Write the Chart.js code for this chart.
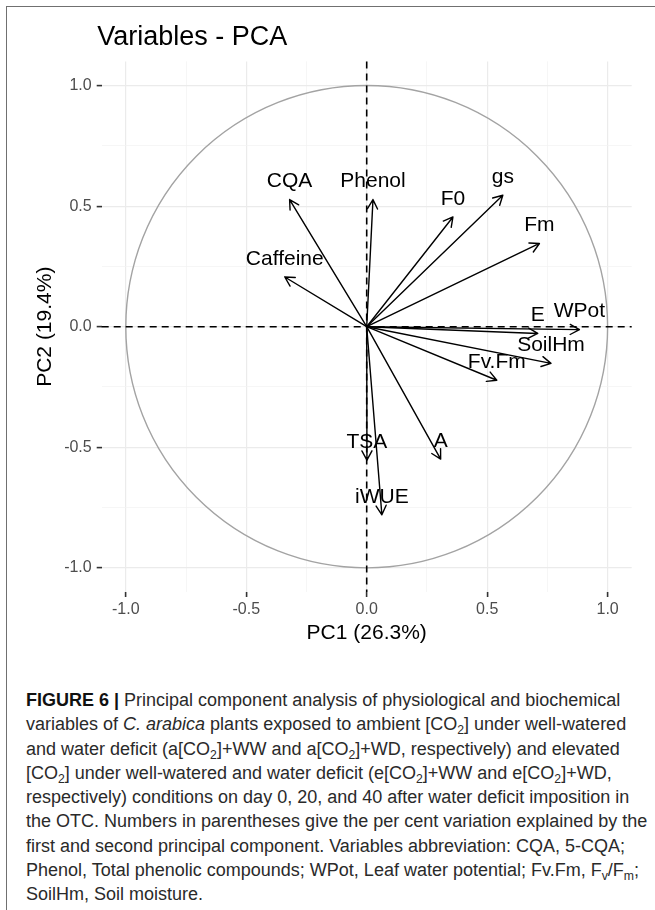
<!DOCTYPE html>
<html>
<head>
<meta charset="utf-8">
<script src="https://cdn.jsdelivr.net/npm/chart.js@4.4.1/dist/chart.umd.min.js"></script>
<style>
  html, body { margin: 0; padding: 0; background: #fff; }
  body { width: 655px; height: 910px; position: relative; overflow: hidden; font-family: "Liberation Sans", Arial, sans-serif; }
  #frame { position: absolute; left: 6px; top: 6px; right: -2px; bottom: -2px; border-top: 1.5px solid #707070; border-left: 1.5px solid #707070; }
  #chartBox { position: absolute; left: 0; top: 0; width: 655px; height: 660px; }
  #caption { position: absolute; left: 26px; top: 688px; font-size: 18px; line-height: 24.3px; color: #2a2a2a; white-space: nowrap; }
  #caption b { color: #111; }
  sub { font-size: 0.68em; vertical-align: -0.3em; line-height: 0; }
</style>
</head>
<body>
<div id="frame"></div>
<div id="chartBox"><canvas id="pca"></canvas></div>
<div id="caption">
  <b>FIGURE 6 |</b> Principal component analysis of physiological and biochemical<br>
  variables of <i>C. arabica</i> plants exposed to ambient [CO<sub>2</sub>] under well-watered<br>
  and water deficit (a[CO<sub>2</sub>]+WW and a[CO<sub>2</sub>]+WD, respectively) and elevated<br>
  [CO<sub>2</sub>] under well-watered and water deficit (e[CO<sub>2</sub>]+WW and e[CO<sub>2</sub>]+WD,<br>
  respectively) conditions on day 0, 20, and 40 after water deficit imposition in<br>
  the OTC. Numbers in parentheses give the per cent variation explained by the<br>
  first and second principal component. Variables abbreviation: CQA, 5-CQA;<br>
  Phenol, Total phenolic compounds; WPot, Leaf water potential; Fv.Fm, F<sub>v</sub>/F<sub>m</sub>;<br>
  SoilHm, Soil moisture.
</div>
<script>
/* variable coordinates on the first two components */
const variables = ['CQA', 'Phenol', 'Caffeine', 'F0', 'gs', 'Fm', 'E', 'WPot', 'SoilHm', 'Fv.Fm', 'TSA', 'A', 'iWUE'];
const pc1 = [-0.32, 0.026, -0.34, 0.358, 0.565, 0.717, 0.71, 0.883, 0.765, 0.54, 0.001, 0.307, 0.063];
const pc2 = [0.527, 0.527, 0.206, 0.455, 0.545, 0.345, -0.028, -0.012, -0.152, -0.222, -0.553, -0.549, -0.78];

/* axis ticks: labelled major ones and the minor grid in between */
const majorTicks = [-1.0, -0.5, 0.0, 0.5, 1.0];
const minorTicks = [-0.75, -0.25, 0.25, 0.75];

const chartTitle = 'Variables - PCA';
const FONT = '"Liberation Sans", Arial, sans-serif';

const points = variables.map((v, i) => ({x: pc1[i], y: pc2[i]}));
const allTicks = majorTicks.concat(minorTicks).sort((a, b) => a - b);
const isMajor = v => majorTicks.includes(v);

/* circle, dashed zero lines, arrows and their labels */
const pcaLayers = {
  id: 'pcaLayers',
  beforeDatasetsDraw(chart) {
    const {ctx, chartArea: a, scales: {x, y}} = chart;
    const x0 = x.getPixelForValue(0), y0 = y.getPixelForValue(0);
    ctx.save();
    ctx.strokeStyle = '#a3a3a3';
    ctx.lineWidth = 1.4;
    ctx.beginPath();
    ctx.ellipse(x0, y0, x.getPixelForValue(1) - x0, y0 - y.getPixelForValue(1), 0, 0, Math.PI * 2);
    ctx.stroke();
    ctx.strokeStyle = '#000';
    ctx.lineWidth = 1.6;
    ctx.setLineDash([7, 5]);
    ctx.beginPath();
    ctx.moveTo(a.left, y0); ctx.lineTo(a.right, y0);
    ctx.moveTo(x0, a.top); ctx.lineTo(x0, a.bottom);
    ctx.stroke();
    ctx.restore();
  },
  afterDatasetsDraw(chart) {
    const {ctx, scales: {x, y}} = chart;
    const x0 = x.getPixelForValue(0), y0 = y.getPixelForValue(0);
    const tips = chart.getDatasetMeta(0).data;
    ctx.save();
    ctx.strokeStyle = '#000';
    ctx.lineWidth = 1.4;
    ctx.lineCap = 'round';
    tips.forEach(p => {
      const ang = Math.atan2(p.y - y0, p.x - x0);
      ctx.beginPath();
      ctx.moveTo(x0, y0); ctx.lineTo(p.x, p.y);
      for (const s of [-1, 1]) {
        ctx.moveTo(p.x, p.y);
        ctx.lineTo(p.x - 10.5 * Math.cos(ang + s * 0.5), p.y - 10.5 * Math.sin(ang + s * 0.5));
      }
      ctx.stroke();
    });
    ctx.fillStyle = '#000';
    ctx.font = '21px ' + FONT;
    ctx.textAlign = 'center';
    ctx.textBaseline = 'middle';
    tips.forEach((p, i) => ctx.fillText(variables[i], p.x, p.y - 18));
    ctx.restore();
  },
  afterDraw(chart) {
    // plot title, a little left of the panel like ggplot's title
    const {ctx, chartArea: a} = chart;
    ctx.save();
    ctx.fillStyle = '#000';
    ctx.font = '27px ' + FONT;
    ctx.textAlign = 'left';
    ctx.textBaseline = 'middle';
    ctx.fillText(chartTitle, a.left - 4.5, 37.5);
    ctx.restore();
  }
};

const axisBase = {
  type: 'linear',
  min: -1.1,
  max: 1.1,
  afterBuildTicks: axis => { axis.ticks = allTicks.map(v => ({value: v})); },
  border: {display: false},
  grid: {
    color: c => isMajor(c.tick.value) ? '#ebebeb' : '#f2f2f2',
    lineWidth: c => isMajor(c.tick.value) ? 1.2 : 0.7,
    tickColor: c => isMajor(c.tick.value) ? '#333' : 'rgba(0,0,0,0)',
    tickLength: 5,
    tickWidth: 1.6
  }
};

new Chart(document.getElementById('pca'), {
  type: 'scatter',
  data: {
    datasets: [{
      label: 'Variables',
      data: points,
      pointRadius: 0,
      pointHoverRadius: 0
    }]
  },
  options: {
    responsive: true,
    maintainAspectRatio: false,
    animation: false,
    devicePixelRatio: 1,
    layout: {padding: {left: 0, right: 23.3, top: 61.4, bottom: 0}},
    plugins: {
      legend: {display: false},
      tooltip: {enabled: false},
      title: {display: false}
    },
    scales: {
      x: Object.assign({}, axisBase, {
        position: 'bottom',
        afterFit: s => { s.height = 68; },
        ticks: {
          autoSkip: false, maxRotation: 0, padding: 3.4, color: '#4d4d4d',
          font: {family: FONT, size: 16},
          callback: v => isMajor(v) ? v.toFixed(1) : ''
        },
        title: {
          display: true, text: 'PC1 (26.3%)', color: '#000',
          font: {family: FONT, size: 21},
          padding: {top: 0, bottom: 14.4}
        }
      }),
      y: Object.assign({}, axisBase, {
        position: 'left',
        afterFit: s => { s.width = 101.7; },
        ticks: {
          autoSkip: false, padding: 5, color: '#4d4d4d',
          font: {family: FONT, size: 16},
          callback: v => isMajor(v) ? v.toFixed(1) : ''
        },
        title: {
          display: true, text: 'PC2 (19.4%)', color: '#000',
          font: {family: FONT, size: 21},
          padding: {top: 32.4, bottom: 0}
        }
      })
    }
  },
  plugins: [pcaLayers]
});
</script>
</body>
</html>
